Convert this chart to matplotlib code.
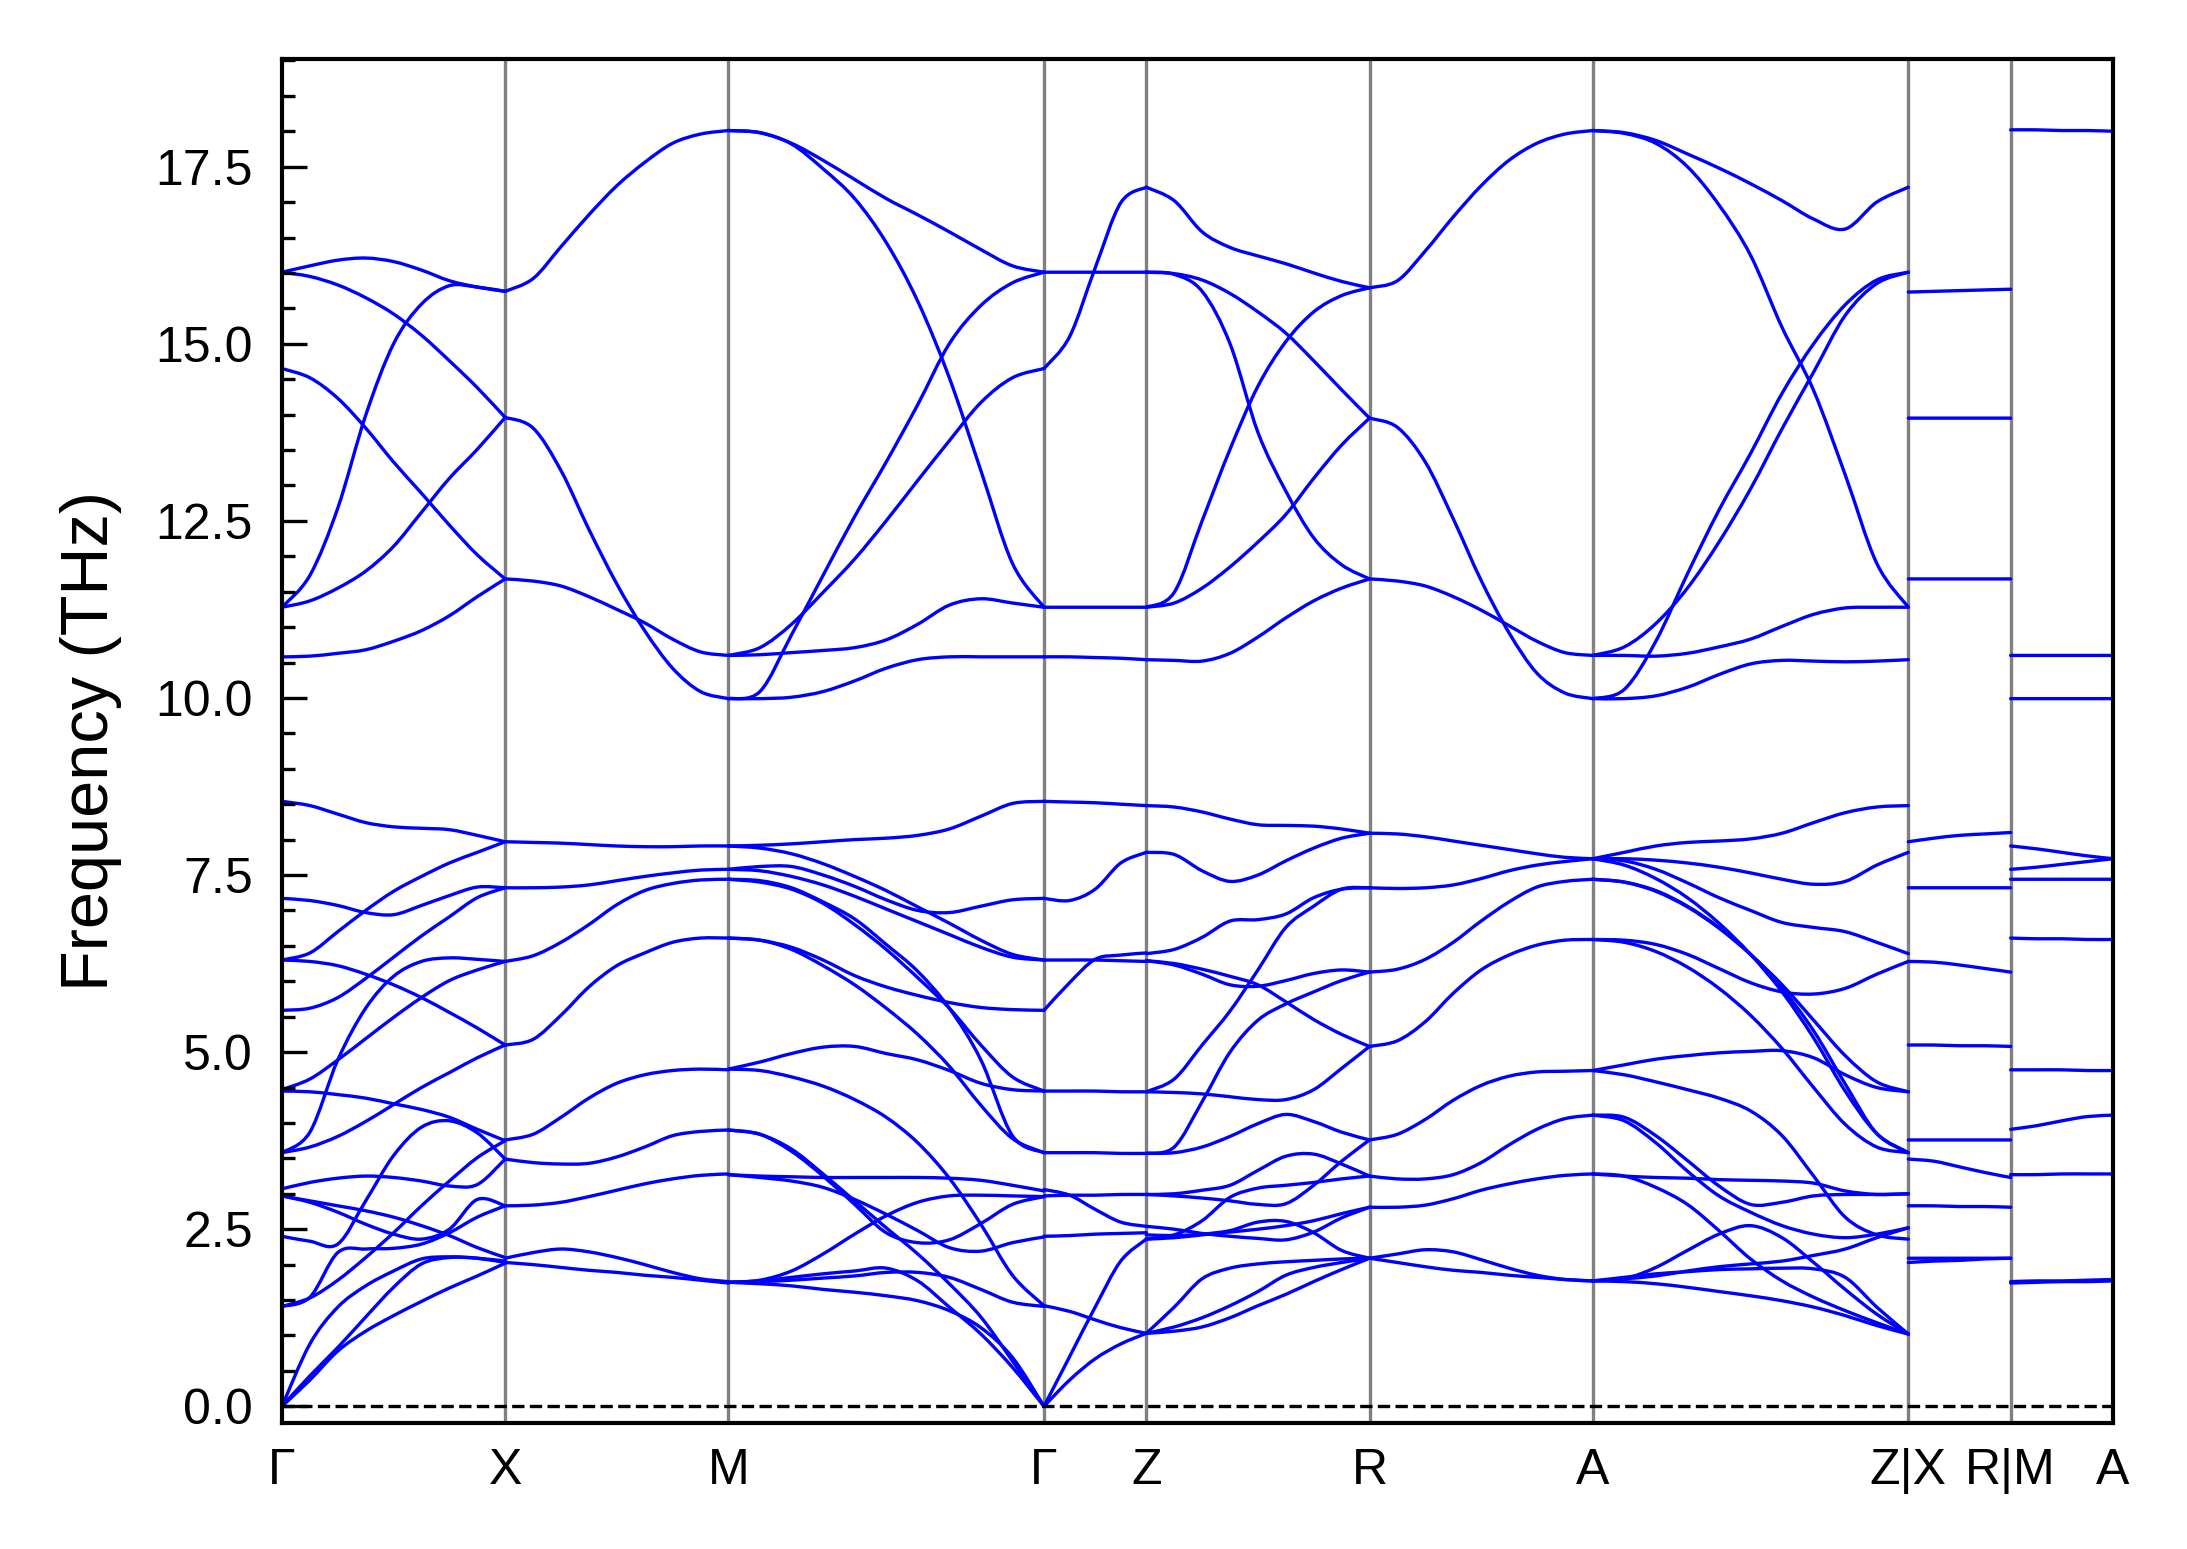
import numpy as np
import matplotlib
matplotlib.use("Agg")
import matplotlib.pyplot as plt
from matplotlib.path import Path
from matplotlib.patches import PathPatch
from matplotlib.ticker import MultipleLocator

plt.rcParams['font.family'] = ['Liberation Sans', 'DejaVu Sans']

# ---------------- k-path ----------------
tick_labels = ["Γ", "X", "M", "Γ", "Z", "R", "A", "Z|X", "R|M", "A"]
segment_lengths = [1.0, 1.0, 1.4142, 0.4585, 1.0, 1.0, 1.4142, 0.4585, 0.4585]

# ---------------- band values (THz) sampled evenly along each segment ----------------
seg_GX = [
    [16.01, 16.10, 16.18, 16.21, 16.16, 16.04, 15.89, 15.80, 15.74],
    [16.01, 15.95, 15.83, 15.65, 15.42, 15.12, 14.76, 14.38, 13.96],
    [14.65, 14.52, 14.23, 13.81, 13.33, 12.89, 12.44, 12.02, 11.68],
    [11.28, 11.73, 12.68, 13.99, 15.00, 15.56, 15.82, 15.80, 15.74],
    [11.28, 11.37, 11.55, 11.79, 12.14, 12.62, 13.10, 13.51, 13.96],
    [10.58, 10.59, 10.63, 10.68, 10.80, 10.95, 11.16, 11.43, 11.68],
    [8.54, 8.48, 8.36, 8.24, 8.18, 8.16, 8.14, 8.06, 7.97],
    [6.30, 6.40, 6.70, 7.00, 7.27, 7.48, 7.67, 7.82, 7.97],
    [7.17, 7.14, 7.07, 6.97, 6.94, 7.07, 7.21, 7.33, 7.32],
    [5.59, 5.62, 5.77, 6.04, 6.34, 6.64, 6.91, 7.18, 7.32],
    [4.47, 4.62, 4.89, 5.19, 5.49, 5.77, 6.01, 6.16, 6.28],
    [3.58, 3.87, 4.89, 5.62, 6.07, 6.28, 6.33, 6.31, 6.28],
    [6.30, 6.28, 6.22, 6.10, 5.95, 5.77, 5.56, 5.34, 5.10],
    [3.58, 3.66, 3.81, 4.02, 4.26, 4.50, 4.71, 4.92, 5.10],
    [4.45, 4.44, 4.40, 4.35, 4.27, 4.19, 4.08, 3.91, 3.75],
    [1.41, 1.53, 1.78, 2.10, 2.45, 2.83, 3.18, 3.51, 3.75],
    [2.40, 2.33, 2.29, 2.90, 3.54, 3.94, 4.03, 3.86, 3.49],
    [3.07, 3.16, 3.22, 3.25, 3.23, 3.18, 3.11, 3.13, 3.49],
    [2.97, 2.88, 2.74, 2.57, 2.43, 2.36, 2.50, 2.92, 2.83],
    [1.41, 1.54, 2.17, 2.22, 2.23, 2.29, 2.45, 2.67, 2.83],
    [2.97, 2.90, 2.83, 2.76, 2.67, 2.55, 2.41, 2.24, 2.10],
    [0.00, 0.37, 0.78, 1.06, 1.28, 1.48, 1.67, 1.84, 2.02],
    [0.00, 0.43, 0.83, 1.26, 1.68, 2.01, 2.10, 2.09, 2.05],
    [0.00, 0.88, 1.40, 1.70, 1.91, 2.08, 2.11, 2.09, 2.03],
]

seg_XM = [
    [15.74, 15.92, 16.37, 16.82, 17.23, 17.56, 17.83, 17.96, 18.01],
    [13.96, 13.81, 13.21, 12.38, 11.61, 10.95, 10.42, 10.09, 9.99],
    [11.68, 11.65, 11.58, 11.43, 11.25, 11.06, 10.83, 10.65, 10.60],
    [7.97, 7.96, 7.95, 7.93, 7.91, 7.90, 7.90, 7.91, 7.91],
    [7.32, 7.32, 7.33, 7.36, 7.42, 7.48, 7.53, 7.57, 7.58],
    [6.28, 6.36, 6.55, 6.80, 7.08, 7.28, 7.38, 7.43, 7.44],
    [5.10, 5.18, 5.52, 5.92, 6.22, 6.40, 6.55, 6.61, 6.61],
    [3.76, 3.84, 4.08, 4.35, 4.56, 4.68, 4.74, 4.76, 4.75],
    [3.49, 3.44, 3.42, 3.43, 3.52, 3.66, 3.82, 3.88, 3.90],
    [2.83, 2.84, 2.88, 2.96, 3.05, 3.14, 3.21, 3.26, 3.28],
    [2.09, 2.17, 2.22, 2.18, 2.10, 2.00, 1.89, 1.80, 1.76],
    [2.03, 2.00, 1.96, 1.92, 1.89, 1.85, 1.82, 1.78, 1.74],
]

seg_MG = [
    [18.01, 17.98, 17.83, 17.59, 17.32, 17.05, 16.82, 16.58, 16.33, 16.10, 16.01],
    [18.01, 17.98, 17.82, 17.47, 17.05, 16.43, 15.60, 14.52, 13.21, 11.90, 11.28],
    [9.99, 10.09, 10.89, 11.73, 12.56, 13.33, 14.14, 15.00, 15.54, 15.86, 16.01],
    [10.60, 10.71, 11.04, 11.49, 11.96, 12.50, 13.07, 13.63, 14.17, 14.52, 14.65],
    [10.60, 10.61, 10.64, 10.67, 10.71, 10.82, 11.04, 11.31, 11.40, 11.34, 11.28],
    [9.99, 9.99, 10.01, 10.09, 10.24, 10.42, 10.54, 10.58, 10.58, 10.58, 10.58],
    [7.91, 7.92, 7.94, 7.97, 8.00, 8.02, 8.06, 8.15, 8.33, 8.51, 8.54],
    [7.91, 7.88, 7.80, 7.66, 7.48, 7.28, 7.05, 6.82, 6.58, 6.38, 6.30],
    [7.58, 7.62, 7.62, 7.50, 7.34, 7.15, 7.00, 6.97, 7.06, 7.15, 7.17],
    [7.58, 7.56, 7.48, 7.36, 7.20, 7.02, 6.84, 6.66, 6.48, 6.34, 6.30],
    [7.44, 7.40, 7.30, 7.10, 6.80, 6.45, 6.05, 5.62, 5.10, 4.65, 4.45],
    [7.44, 7.42, 7.32, 7.12, 6.88, 6.52, 6.14, 5.62, 4.89, 3.82, 3.58],
    [6.61, 6.58, 6.48, 6.30, 6.08, 5.92, 5.80, 5.70, 5.63, 5.60, 5.59],
    [6.61, 6.58, 6.45, 6.22, 5.95, 5.62, 5.25, 4.80, 4.25, 3.78, 3.58],
    [4.76, 4.86, 4.98, 5.07, 5.08, 4.98, 4.89, 4.74, 4.56, 4.47, 4.45],
    [4.76, 4.74, 4.65, 4.52, 4.33, 4.08, 3.72, 3.22, 2.57, 1.85, 1.42],
    [3.90, 3.84, 3.63, 3.28, 2.90, 2.52, 2.15, 1.73, 1.26, 0.64, 0.00],
    [1.75, 1.77, 1.82, 1.87, 1.91, 1.95, 1.77, 1.40, 1.02, 0.55, 0.00],
    [1.75, 1.73, 1.70, 1.65, 1.61, 1.56, 1.49, 1.35, 1.11, 0.69, 0.00],
    [3.90, 3.84, 3.60, 3.25, 2.85, 2.45, 2.31, 2.35, 2.58, 2.85, 2.96],
    [3.27, 3.23, 3.18, 3.09, 2.92, 2.71, 2.48, 2.24, 2.19, 2.31, 2.39],
    [3.27, 3.25, 3.24, 3.23, 3.23, 3.23, 3.23, 3.22, 3.19, 3.12, 3.04],
    [1.75, 1.78, 1.91, 2.15, 2.43, 2.69, 2.88, 2.97, 2.98, 2.97, 2.96],
    [1.75, 1.76, 1.78, 1.81, 1.84, 1.89, 1.89, 1.82, 1.65, 1.47, 1.41],
]

seg_GZ = [
    [16.01, 16.01, 16.01, 16.01, 16.01],
    [14.65, 15.10, 16.07, 16.99, 17.21],
    [11.28, 11.28, 11.28, 11.28, 11.28],
    [10.58, 10.58, 10.57, 10.56, 10.54],
    [8.54, 8.53, 8.52, 8.50, 8.48],
    [7.17, 7.14, 7.30, 7.67, 7.82],
    [6.30, 6.30, 6.30, 6.29, 6.28],
    [5.59, 5.98, 6.31, 6.37, 6.40],
    [4.45, 4.45, 4.45, 4.44, 4.44],
    [3.58, 3.58, 3.58, 3.57, 3.57],
    [3.06, 2.98, 2.78, 2.60, 2.54],
    [2.97, 2.98, 2.98, 2.99, 2.99],
    [2.40, 2.41, 2.43, 2.44, 2.45],
    [1.42, 1.34, 1.22, 1.11, 1.03],
    [0.00, 0.70, 1.40, 2.05, 2.36],
    [0.00, 0.37, 0.67, 0.88, 1.03],
]

seg_ZR = [
    [17.21, 17.02, 16.58, 16.36, 16.24, 16.13, 16.00, 15.88, 15.79],
    [16.01, 15.99, 15.90, 15.71, 15.45, 15.15, 14.76, 14.35, 13.95],
    [16.01, 15.98, 15.74, 15.00, 13.75, 12.92, 12.26, 11.88, 11.68],
    [11.28, 11.49, 12.50, 13.51, 14.40, 15.03, 15.45, 15.68, 15.79],
    [11.28, 11.34, 11.55, 11.85, 12.20, 12.59, 13.10, 13.57, 13.95],
    [10.54, 10.53, 10.52, 10.63, 10.86, 11.13, 11.37, 11.55, 11.68],
    [8.48, 8.46, 8.39, 8.29, 8.21, 8.20, 8.19, 8.15, 8.09],
    [7.82, 7.79, 7.56, 7.41, 7.50, 7.70, 7.88, 8.02, 8.09],
    [6.39, 6.45, 6.62, 6.85, 6.87, 6.95, 7.18, 7.30, 7.32],
    [6.29, 6.23, 6.10, 5.95, 5.93, 6.01, 6.11, 6.16, 6.13],
    [6.29, 6.25, 6.17, 6.07, 5.95, 5.71, 5.46, 5.25, 5.08],
    [4.44, 4.62, 5.10, 5.58, 6.16, 6.76, 7.06, 7.30, 7.32],
    [4.44, 4.43, 4.41, 4.37, 4.33, 4.33, 4.47, 4.77, 5.08],
    [3.57, 3.66, 4.30, 5.00, 5.45, 5.68, 5.85, 6.01, 6.13],
    [3.57, 3.58, 3.66, 3.81, 3.99, 4.12, 4.02, 3.87, 3.76],
    [2.99, 3.00, 3.05, 3.12, 3.33, 3.53, 3.56, 3.42, 3.25],
    [2.99, 2.97, 2.94, 2.90, 2.85, 2.86, 3.12, 3.46, 3.76],
    [2.54, 2.50, 2.44, 2.40, 2.37, 2.35, 2.46, 2.66, 2.81],
    [2.42, 2.41, 2.43, 2.48, 2.60, 2.61, 2.45, 2.20, 2.09],
    [2.36, 2.42, 2.62, 2.95, 3.08, 3.12, 3.16, 3.21, 3.25],
    [2.36, 2.38, 2.42, 2.46, 2.50, 2.55, 2.62, 2.72, 2.81],
    [1.03, 1.40, 1.80, 1.95, 2.01, 2.04, 2.06, 2.08, 2.09],
    [1.03, 1.12, 1.25, 1.42, 1.62, 1.85, 1.96, 2.03, 2.09],
    [1.03, 1.06, 1.12, 1.25, 1.42, 1.58, 1.76, 1.93, 2.09],
]

seg_RA = [
    [15.79, 15.89, 16.31, 16.79, 17.23, 17.59, 17.83, 17.96, 18.01],
    [13.95, 13.82, 13.33, 12.53, 11.66, 10.92, 10.35, 10.07, 9.99],
    [11.68, 11.65, 11.58, 11.43, 11.24, 11.02, 10.80, 10.64, 10.60],
    [8.09, 8.08, 8.04, 7.98, 7.92, 7.86, 7.80, 7.75, 7.73],
    [7.32, 7.31, 7.32, 7.36, 7.45, 7.56, 7.64, 7.69, 7.73],
    [6.13, 6.17, 6.31, 6.55, 6.85, 7.12, 7.33, 7.41, 7.44],
    [5.08, 5.16, 5.43, 5.83, 6.16, 6.37, 6.51, 6.58, 6.59],
    [3.76, 3.84, 4.05, 4.32, 4.53, 4.66, 4.72, 4.73, 4.74],
    [3.25, 3.21, 3.21, 3.27, 3.44, 3.69, 3.91, 4.06, 4.11],
    [2.81, 2.81, 2.84, 2.93, 3.05, 3.14, 3.21, 3.26, 3.28],
    [2.09, 2.15, 2.21, 2.18, 2.07, 1.95, 1.85, 1.79, 1.77],
    [2.09, 2.03, 1.97, 1.92, 1.89, 1.85, 1.82, 1.79, 1.77],
]

seg_AZ = [
    [18.01, 17.98, 17.87, 17.68, 17.48, 17.26, 17.02, 16.76, 16.62, 17.00, 17.21],
    [18.01, 17.97, 17.83, 17.50, 16.96, 16.25, 15.23, 14.34, 13.15, 11.90, 11.28],
    [9.99, 10.12, 10.80, 11.75, 12.65, 13.45, 14.30, 15.00, 15.55, 15.90, 16.01],
    [10.60, 10.72, 11.05, 11.55, 12.20, 12.95, 13.80, 14.60, 15.40, 15.85, 16.01],
    [10.60, 10.60, 10.59, 10.63, 10.72, 10.83, 11.01, 11.18, 11.27, 11.28, 11.28],
    [9.99, 9.99, 10.03, 10.15, 10.33, 10.48, 10.53, 10.52, 10.51, 10.52, 10.54],
    [7.73, 7.82, 7.91, 7.96, 7.98, 8.01, 8.09, 8.24, 8.38, 8.46, 8.48],
    [7.73, 7.73, 7.71, 7.67, 7.61, 7.53, 7.44, 7.37, 7.41, 7.64, 7.82],
    [7.73, 7.70, 7.58, 7.39, 7.18, 7.00, 6.83, 6.76, 6.70, 6.55, 6.39],
    [7.73, 7.64, 7.45, 7.18, 6.82, 6.38, 5.85, 5.20, 4.45, 3.85, 3.58],
    [7.44, 7.40, 7.27, 7.05, 6.75, 6.38, 5.95, 5.45, 4.95, 4.58, 4.44],
    [7.44, 7.40, 7.28, 7.06, 6.76, 6.38, 5.90, 5.30, 4.55, 3.85, 3.58],
    [6.59, 6.58, 6.52, 6.38, 6.18, 5.98, 5.85, 5.82, 5.90, 6.10, 6.28],
    [6.59, 6.55, 6.42, 6.20, 5.90, 5.52, 5.05, 4.50, 3.98, 3.66, 3.58],
    [4.74, 4.82, 4.90, 4.95, 4.99, 5.01, 5.02, 4.92, 4.68, 4.50, 4.44],
    [4.74, 4.68, 4.58, 4.47, 4.35, 4.17, 3.82, 3.25, 2.67, 2.42, 2.36],
    [4.11, 4.08, 3.82, 3.47, 3.11, 2.85, 2.88, 2.97, 2.99, 2.99, 3.00],
    [4.11, 4.03, 3.72, 3.32, 2.97, 2.74, 2.55, 2.43, 2.38, 2.43, 2.52],
    [3.28, 3.25, 3.23, 3.22, 3.20, 3.19, 3.18, 3.15, 3.04, 2.99, 3.00],
    [3.28, 3.25, 3.09, 2.85, 2.48, 2.08, 1.77, 1.54, 1.35, 1.18, 1.02],
    [1.77, 1.80, 1.96, 2.20, 2.43, 2.55, 2.38, 2.03, 1.65, 1.30, 1.02],
    [1.77, 1.80, 1.84, 1.91, 1.97, 2.01, 2.05, 2.13, 2.22, 2.38, 2.52],
    [1.77, 1.82, 1.87, 1.90, 1.93, 1.94, 1.95, 1.94, 1.82, 1.40, 1.02],
    [1.77, 1.76, 1.73, 1.68, 1.62, 1.56, 1.49, 1.40, 1.28, 1.14, 1.02],
]

seg_XR = [
    [15.73, 15.74, 15.75, 15.76, 15.77],
    [13.95, 13.95, 13.95, 13.95, 13.95],
    [11.68, 11.68, 11.68, 11.68, 11.68],
    [7.97, 8.02, 8.06, 8.08, 8.10],
    [7.32, 7.32, 7.32, 7.32, 7.32],
    [6.28, 6.27, 6.23, 6.18, 6.13],
    [5.10, 5.10, 5.09, 5.09, 5.08],
    [3.76, 3.76, 3.76, 3.76, 3.76],
    [3.49, 3.46, 3.38, 3.30, 3.23],
    [2.83, 2.83, 2.82, 2.82, 2.81],
    [2.09, 2.09, 2.09, 2.09, 2.09],
    [2.03, 2.05, 2.06, 2.08, 2.09],
]

seg_MA = [
    [18.02, 18.02, 18.01, 18.01, 18.00],
    [10.60, 10.60, 10.60, 10.60, 10.60],
    [9.99, 9.99, 9.99, 9.99, 9.99],
    [7.91, 7.87, 7.82, 7.77, 7.73],
    [7.58, 7.61, 7.65, 7.69, 7.73],
    [7.44, 7.44, 7.44, 7.44, 7.44],
    [6.61, 6.60, 6.60, 6.59, 6.59],
    [4.75, 4.75, 4.75, 4.74, 4.74],
    [3.91, 3.96, 4.03, 4.09, 4.11],
    [3.27, 3.27, 3.28, 3.28, 3.28],
    [1.76, 1.77, 1.77, 1.78, 1.79],
    [1.74, 1.75, 1.76, 1.76, 1.77],
]

segments = [seg_GX, seg_XM, seg_MG, seg_GZ, seg_ZR, seg_RA, seg_AZ, seg_XR, seg_MA]


def smooth_path(xs, ys):
    """Smooth curve drawn through the sampled points (Catmull-Rom as cubic Bezier)."""
    P = np.column_stack([xs, ys])
    n = len(P)
    verts = [P[0]]
    codes = [Path.MOVETO]
    for i in range(n - 1):
        p0 = P[i - 1] if i > 0 else P[i]
        p1 = P[i]
        p2 = P[i + 1]
        p3 = P[i + 2] if i + 2 < n else P[i + 1]
        verts += [p1 + (p2 - p0) / 6.0, p2 - (p3 - p1) / 6.0, p2]
        codes += [Path.CURVE4] * 3
    return Path(verts, codes)


fig = plt.figure(figsize=(2187 / 300, 1549 / 300), dpi=300)
ax = fig.add_axes([0.12894, 0.08134, 0.83722, 0.88057])

boundaries = np.concatenate([[0.0], np.cumsum(segment_lengths)])

for i, seg in enumerate(segments):
    x0, x1 = boundaries[i], boundaries[i + 1]
    for band in seg:
        xs = np.linspace(x0, x1, len(band))
        patch = PathPatch(smooth_path(xs, np.asarray(band)), facecolor='none',
                          edgecolor='#0000ff', lw=0.8, capstyle='round', joinstyle='round')
        ax.add_patch(patch)

for b in boundaries[1:-1]:
    ax.axvline(b, color='#808080', lw=0.8, zorder=0)
ax.axhline(0.0, color='black', lw=0.8, ls='--', zorder=1)

ax.set_xlim(boundaries[0], boundaries[-1])
ax.set_ylim(-0.236, 19.02)
ax.set_xticks(boundaries)
ax.set_xticklabels(tick_labels)
ax.yaxis.set_major_locator(MultipleLocator(2.5))
ax.yaxis.set_minor_locator(MultipleLocator(0.5))
ax.yaxis.set_major_formatter(matplotlib.ticker.FormatStrFormatter('%.1f'))
ax.tick_params(axis='y', which='major', direction='in', length=6, width=0.8,
               labelsize=12, pad=7)
ax.tick_params(axis='y', which='minor', direction='in', length=3, width=0.8)
ax.tick_params(axis='x', which='both', length=0, labelsize=12, pad=6)
for sp in ax.spines.values():
    sp.set_linewidth(1.0)
ax.set_ylabel("Frequency (THz)", fontsize=16, labelpad=8)

fig.savefig("out.png", dpi=300)
